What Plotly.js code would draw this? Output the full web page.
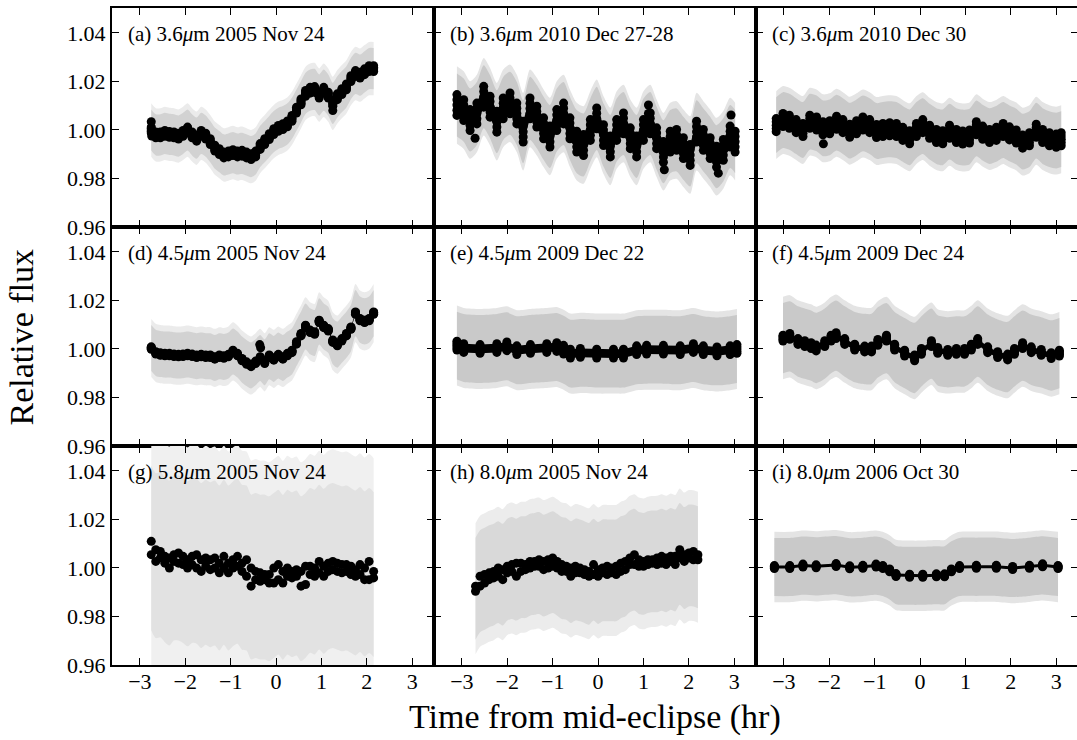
<!DOCTYPE html>
<html>
<head>
<meta charset="utf-8">
<script src="https://cdn.plot.ly/plotly-3.0.1.min.js"></script>
<style>html,body{margin:0;padding:0;overflow:hidden;background:#fff}#chart{width:1080px;height:740px}</style>
</head>
<body>
<div id="chart"></div>
<script>
// ---------- data ----------
const panelLabels = ['(a) 3.6<i>μ</i>m 2005 Nov 24','(b) 3.6<i>μ</i>m 2010 Dec 27-28','(c) 3.6<i>μ</i>m 2010 Dec 30',
  '(d) 4.5<i>μ</i>m 2005 Nov 24','(e) 4.5<i>μ</i>m 2009 Dec 22','(f) 4.5<i>μ</i>m 2009 Dec 24',
  '(g) 5.8<i>μ</i>m 2005 Nov 24','(h) 8.0<i>μ</i>m 2005 Nov 24','(i) 8.0<i>μ</i>m 2006 Oct 30'];
const xTicks = [-3,-2,-1,0,1,2,3];
const yTicks = [0.96,0.98,1.00,1.02,1.04];

// half-widths of the gray (unbinned) scatter: dense core and sparse halo, per panel a..i
const grayInner = [0.0085,0.013,0.0115,0.0095,0.014,0.0145,0.034,0.021,0.012];
const grayOuter = [0.011,0.016,0.014,0.012,0.0165,0.017,0.048,0.027,0.0145];
// half-thickness of the band of black binned points, per panel a..i (g, h are drawn as single points)
const blackHalf = [0.0012,0.0043,0.0027,0.0005,0.0018,0.0012,0,0,0.0006];

const tA = [-2.75,-2.65,-2.55,-2.45,-2.35,-2.25,-2.15,-2.05,-1.95,-1.85,-1.75,-1.65,-1.55,-1.45,-1.35,-1.25,-1.15,-1.05,-0.95,-0.85,-0.75,-0.65,-0.55,-0.45,-0.35,-0.25,-0.15,-0.05,0.05,0.15,0.25,0.35,0.45,0.55,0.65,0.75,0.85,0.95,1.05,1.15,1.25,1.35,1.45,1.55,1.65,1.75,1.85,1.95,2.05,2.15];
const fA = [1.000,0.998,0.998,0.9986,0.9982,0.998,0.9975,0.9986,1.000,0.998,0.9966,0.9986,0.9975,0.9952,0.9925,0.9911,0.9897,0.9901,0.9907,0.9901,0.9904,0.9897,0.989,0.9901,0.9932,0.9952,0.9973,0.9993,1.0007,1.0014,1.0025,1.0048,1.0082,1.0116,1.0151,1.0164,1.0167,1.0144,1.0164,1.0144,1.011,1.0137,1.0158,1.0178,1.0212,1.0233,1.0226,1.024,1.0253,1.0253];
const outA_t = [-2.75,-2.74,1.25];
const outA_f = [1.0034,0.9975,1.008];

const tB = [-3.11,-2.96,-2.82,-2.67,-2.52,-2.38,-2.23,-2.09,-1.94,-1.79,-1.65,-1.50,-1.35,-1.20,-1.06,-0.91,-0.76,-0.62,-0.47,-0.32,-0.17,-0.03,0.12,0.27,0.41,0.56,0.71,0.85,1.00,1.15,1.29,1.44,1.59,1.73,1.88,2.03,2.17,2.32,2.47,2.61,2.76,2.91,3.02];
const fB = [1.0103,1.0082,1.0041,1.0068,1.0137,1.0096,1.0034,1.0089,1.011,1.0068,0.9993,1.0089,1.0055,1.0007,0.9973,1.0041,1.0068,1.0007,0.9952,0.9938,1.000,1.0048,0.9979,0.9932,1.000,1.0027,0.9966,0.9932,1.000,1.0027,0.9966,0.991,0.9952,0.9959,0.9925,0.9897,0.9993,0.9959,0.9925,0.989,0.9918,0.9973,0.9952];
const outB_t = [-2.71,1.11,1.11,1.46,2.65,2.93];
const outB_f = [0.9966,1.0103,1.0068,0.9836,0.9822,1.0062];

const tC = [-3.17,-3.02,-2.88,-2.73,-2.58,-2.43,-2.28,-2.14,-1.99,-1.84,-1.70,-1.55,-1.40,-1.26,-1.11,-0.96,-0.82,-0.67,-0.52,-0.38,-0.23,-0.08,0.06,0.21,0.36,0.50,0.65,0.80,0.94,1.09,1.24,1.38,1.53,1.68,1.83,1.97,2.12,2.26,2.41,2.56,2.70,2.85,3.00,3.11];
const fC = [1.002,1.0041,1.0034,1.0016,1.000,1.0034,1.0027,1.0007,1.0011,1.003,1.0016,0.9997,1.0011,1.0027,1.0016,0.9996,1.000,1.0003,1.000,0.9984,0.997,1.000,1.0016,0.9993,0.9975,0.997,0.9993,0.9975,0.9969,0.9973,1.0007,0.9989,0.9975,0.9984,1.000,0.9986,0.9973,0.9952,0.9962,0.9997,0.9975,0.9962,0.9956,0.9962];
const outC_t = [-2.13];
const outC_f = [0.9943];

const tD = tA.slice();
const fD = [1.0004,0.9984,0.9979,0.9977,0.9977,0.9974,0.9973,0.9974,0.9977,0.9974,0.997,0.9973,0.997,0.997,0.9963,0.997,0.9967,0.9973,0.999,0.9977,0.9956,0.9942,0.9932,0.9945,0.9963,0.9945,0.997,0.9959,0.9973,0.9963,0.9977,0.999,1.0025,1.0059,1.0093,1.0073,1.0066,1.0114,1.0093,1.0079,1.0032,1.0018,1.0038,1.0059,1.0086,1.0148,1.0121,1.0114,1.0121,1.0148];
const outD_t = [-0.36,-0.34];
const outD_f = [1.0018,1.0005];

const tE = [-3.11,-2.96,-2.60,-2.23,-2.01,-1.79,-1.49,-1.13,-0.91,-0.76,-0.61,-0.39,-0.03,0.34,0.56,0.85,1.07,1.44,1.81,2.10,2.32,2.62,2.91,3.06];
const fE = [1.0014,1.0004,1.000,1.0004,1.0011,0.9995,1.000,1.0004,1.0008,0.9997,0.9981,0.9984,0.9981,0.9981,0.9981,0.9995,0.9997,0.9997,0.9995,1.0004,0.9995,0.999,0.9995,1.000];

const tF = [-3.02,-2.87,-2.69,-2.54,-2.40,-2.29,-2.10,-1.96,-1.85,-1.66,-1.44,-1.22,-1.07,-0.93,-0.74,-0.56,-0.34,-0.12,0.03,0.25,0.39,0.61,0.80,0.98,1.13,1.27,1.49,1.71,1.93,2.08,2.26,2.45,2.67,2.89,3.07];
const fF = [1.0045,1.0052,1.0031,1.0022,1.0014,1.0004,1.0022,1.0045,1.0055,1.0031,1.0008,1.000,1.000,1.0027,1.0045,1.0008,0.9983,0.9963,0.999,1.0022,0.9994,0.9986,0.999,0.999,1.0008,1.0031,0.9997,0.9977,0.9967,0.999,1.0014,0.9997,0.9986,0.9973,0.9983];

const tG = tA.slice();
const gHi = [1.011,1.0075,1.0068,1.0048,1.0041,1.0055,1.0062,1.0048,1.0034,1.0048,1.0055,1.0034,1.0041,1.0034,1.0041,1.002,1.0048,1.002,1.0034,1.0048,1.002,1.0034,1.000,0.9986,0.998,0.9973,0.9973,1.000,1.0014,0.9986,1.000,0.9986,0.9993,0.9986,1.0007,1.0007,1.000,1.0027,1.0007,1.002,1.0027,1.002,1.0014,1.0014,1.0007,0.9993,1.0014,1.000,1.0027,0.9986];
const gLo = [1.0055,1.0027,1.0041,1.002,1.000,1.0027,1.002,1.0014,1.000,1.0014,1.000,0.9986,1.0007,0.9993,1.000,0.998,1.000,0.998,1.000,1.0007,0.9986,0.9966,0.9925,0.9952,0.9945,0.9952,0.9938,0.9938,0.9952,0.9938,0.9966,0.9959,0.9966,0.9925,0.9932,0.9973,0.9966,0.998,0.9966,0.9986,0.9993,0.9986,0.998,0.9986,0.9973,0.9966,0.9973,0.9952,0.9952,0.9959];

const tH = [-2.7,-2.6,-2.5,-2.4,-2.3,-2.2,-2.1,-2.0,-1.9,-1.8,-1.7,-1.6,-1.5,-1.4,-1.3,-1.2,-1.1,-1.0,-0.9,-0.8,-0.7,-0.6,-0.5,-0.4,-0.3,-0.2,-0.1,0.0,0.1,0.2,0.3,0.4,0.5,0.6,0.7,0.8,0.9,1.0,1.1,1.2,1.3,1.4,1.5,1.6,1.7,1.8,1.9,2.0,2.1,2.2];
const hHi = [0.9925,0.9966,0.9973,0.998,0.9986,1.000,0.9993,1.0007,1.0014,1.002,1.002,1.0014,1.0027,1.0027,1.0034,1.0027,1.0034,1.0041,1.0027,1.0014,1.0007,1.000,1.0007,1.000,0.9993,0.9986,1.0014,0.9993,1.000,1.0007,1.000,1.0007,1.002,1.0027,1.0041,1.0055,1.0034,1.0027,1.0034,1.0034,1.0041,1.0048,1.0041,1.0048,1.0048,1.0075,1.0055,1.0062,1.0068,1.0055];
const hLo = [0.9904,0.9925,0.9938,0.9952,0.9959,0.9966,0.9952,0.998,0.9986,0.9966,0.9986,0.9993,1.000,1.0007,1.0007,0.9993,1.000,1.0007,1.000,0.9986,0.9986,0.9966,0.998,0.998,0.9973,0.9966,0.9973,0.9966,0.998,0.9973,0.998,0.9973,0.9986,0.9993,1.0014,1.0014,1.0007,1.0007,1.0014,1.002,1.0014,1.002,1.0014,1.0027,1.0014,1.0041,1.0027,1.0041,1.0034,1.0034];

const tI = [-3.21,-2.87,-2.58,-2.29,-1.85,-1.55,-1.26,-0.97,-0.82,-0.67,-0.53,-0.23,0.06,0.36,0.54,0.69,0.87,1.24,1.68,2.04,2.41,2.70,3.04];
const fI = [1.0004,1.0004,1.001,1.0007,1.0012,1.0003,1.0005,1.001,1.0004,0.999,0.9971,0.9968,0.9968,0.997,0.997,0.999,1.0004,1.0005,1.0005,1.000,1.0005,1.0011,1.0004];

// ---------- styling / assembly ----------
const FONT = 'Liberation Serif, Times New Roman, serif';
const panels = [
  {t:tA, f:fA, ot:outA_t, of:outA_f, gin:'#d2d2d2', gout:'#ebebeb'},
  {t:tB, f:fB, ot:outB_t, of:outB_f, gin:'#c9c9c9', gout:'#e4e4e4'},
  {t:tC, f:fC, ot:outC_t, of:outC_f, gin:'#c9c9c9', gout:'#e4e4e4'},
  {t:tD, f:fD, ot:outD_t, of:outD_f, gin:'#d2d2d2', gout:'#ebebeb'},
  {t:tE, f:fE, ot:[], of:[], gin:'#c9c9c9', gout:'#e4e4e4'},
  {t:tF, f:fF, ot:[], of:[], gin:'#c9c9c9', gout:'#e4e4e4'},
  {t:tG, hi:gHi, lo:gLo, gin:'#e2e2e2', gout:'#f0f0f0'},
  {t:tH, hi:hHi, lo:hLo, gin:'#d9d9d9', gout:'#ececec'},
  {t:tI, f:fI, ot:[], of:[], gin:'#c9c9c9', gout:'#e4e4e4'}
];

const traces = [];
const layout = {
  width:1080, height:740,
  margin:{l:112, r:2, t:8, b:75},
  paper_bgcolor:'#fff', plot_bgcolor:'#fff',
  showlegend:false,
  font:{family:FONT, color:'#000'},
  annotations:[]
};

function band(t, c, hw, color, xa, ya, shape){
  const up = c.map(v=>v+hw), dn = c.map(v=>v-hw);
  const ln = {width:0, color:color, shape:shape, smoothing:0.7};
  return [
    {x:t, y:up, xaxis:xa, yaxis:ya, mode:'lines', line:ln, hoverinfo:'skip'},
    {x:t, y:dn, xaxis:xa, yaxis:ya, mode:'lines', line:ln, fill:'tonexty', fillcolor:color, hoverinfo:'skip'}
  ];
}

panels.forEach((p, k) => {
  const row = Math.floor(k/3), col = k%3;
  const n = k+1;
  const xa = 'x'+(n===1?'':n), ya = 'y'+(n===1?'':n);
  const xk = 'xaxis'+(n===1?'':n), yk = 'yaxis'+(n===1?'':n);
  const center = p.f ? p.f : p.hi.map((v,i)=>(v+p.lo[i])/2);
  const scattered = !p.f;
  traces.push(...band(p.t, center, grayOuter[k], p.gout, xa, ya, 'spline'));
  traces.push(...band(p.t, center, grayInner[k], p.gin, xa, ya, 'spline'));
  if (scattered) {
    traces.push({x:p.t.concat(p.t), y:p.hi.concat(p.lo), xaxis:xa, yaxis:ya, mode:'markers',
      marker:{size:9, color:'#000'}, hoverinfo:'x+y'});
  } else {
    const hb = blackHalf[k];
    traces.push(...band(p.t, p.f, hb, '#000', xa, ya, 'linear'));
    traces.push({x:p.t, y:p.f, xaxis:xa, yaxis:ya, mode:'markers',
      marker:{size:9, color:'#000'},
      error_y:{type:'constant', value:hb, color:'#000', thickness:7, width:0, visible:true}});
    const up = p.f.map(v=>v+hb), dn = p.f.map(v=>v-hb);
    const mid1 = p.f.map(v=>v+hb/2), mid2 = p.f.map(v=>v-hb/2);
    traces.push({x:p.t.concat(p.t, p.t, p.t, p.ot), y:up.concat(dn, mid1, mid2, p.of), xaxis:xa, yaxis:ya,
      mode:'markers', marker:{size:9, color:'#000'}});
  }
  layout[xk] = {
    domain:[col/3, (col+1)/3], anchor:ya, range:[-3.615, 3.48],
    tickvals:xTicks, ticks:'inside', ticklen:7, tickwidth:1, tickcolor:'#000',
    showline:true, linewidth:2, linecolor:'#000', mirror:'allticks',
    showgrid:false, zeroline:false, showticklabels: row===2, ticklabelstandoff:-4,
    tickfont:{family:FONT, size:22, color:'#000'}
  };
  layout[yk] = {
    domain:[(2-row)/3, (3-row)/3], anchor:xa, range:[0.96, 1.0503],
    tickvals:yTicks, tickformat:'.2f', ticks:'inside', ticklen:7, tickwidth:1, tickcolor:'#000',
    showline:true, linewidth:2, linecolor:'#000', mirror:'allticks',
    showgrid:false, zeroline:false, showticklabels: col===0,
    tickfont:{family:FONT, size:22, color:'#000'}
  };
  layout.annotations.push({text:panelLabels[k], xref:xa+' domain', yref:ya+' domain',
    x:0.042, y:0.882, xanchor:'left', yanchor:'middle', showarrow:false,
    font:{family:FONT, size:21, color:'#000'}});
});

layout.annotations.push({text:'Relative flux', xref:'paper', yref:'paper', x:-0.0932, y:0.5,
  xanchor:'center', yanchor:'middle', textangle:-90, showarrow:false,
  font:{family:FONT, size:34, color:'#000'}});
layout.annotations.push({text:'Time from mid-eclipse (hr)', xref:'paper', yref:'paper', x:0.5, y:-0.079,
  xanchor:'center', yanchor:'middle', showarrow:false,
  font:{family:FONT, size:34, color:'#000'}});

Plotly.newPlot('chart', traces, layout, {staticPlot:true});
</script>
</body>
</html>
